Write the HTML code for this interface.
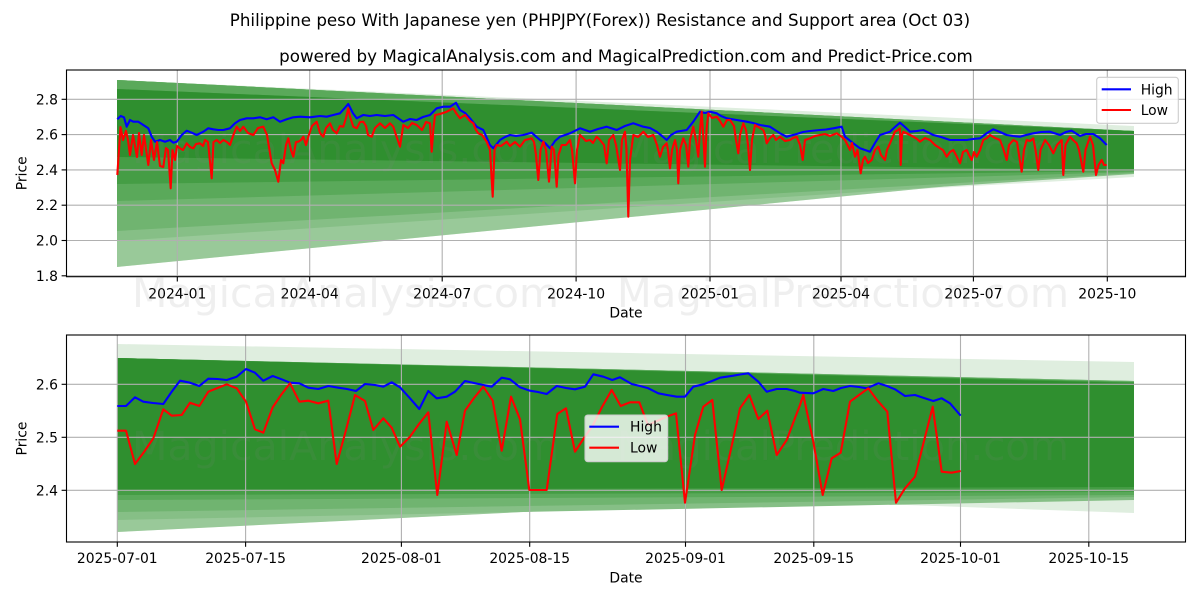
<!DOCTYPE html>
<html>
<head>
<meta charset="utf-8">
<style>
html,body{margin:0;padding:0;background:#fff;}
svg{display:block;font-family:"DejaVu Sans","Liberation Sans",sans-serif;}
.tk{font-size:13.9px;fill:#000;}
.wm{font-size:40.5px;fill:#808080;fill-opacity:0.13;}
</style>
</head>
<body>
<svg width="1200" height="600" viewBox="0 0 1200 600" xmlns="http://www.w3.org/2000/svg">
<rect x="0" y="0" width="1200" height="600" fill="#fff"/>

<!-- Titles -->
<text x="600" y="26" text-anchor="middle" style="font-size:16.7px">Philippine peso With Japanese yen (PHPJPY(Forex)) Resistance and Support area (Oct 03)</text>
<text x="626" y="62" text-anchor="middle" style="font-size:16.7px">powered by MagicalAnalysis.com and MagicalPrediction.com and Predict-Price.com</text>

<!-- ================= TOP CHART ================= -->
<g>
<polygon points="117,80 1134,126 1134,177 919,189 117,267" fill="#dfeedf"/>
<polygon points="117,80 1134,131 1134,168 117,267" fill="#99c999"/>
<polygon points="117,80 1134,131 1134,174 117,241" fill="#86bf86"/>
<polygon points="117,80 1134,131 1134,173 117,231" fill="#70b470"/>
<polygon points="117,80 1134,131 1134,172 117,201" fill="#5aa95a"/>
<polygon points="117,89 1134,131 1134,171 117,184" fill="#459d45"/>
<polygon points="117,89 1134,131 1134,170 117,157" fill="#2f8f2f"/>
</g>
<!-- watermark top center -->
<text class="wm" x="132" y="163" textLength="427" lengthAdjust="spacingAndGlyphs">MagicalAnalysis.com</text>
<text class="wm" x="617" y="163" textLength="452" lengthAdjust="spacingAndGlyphs">MagicalPrediction.com</text>
<!-- grid -->
<g stroke="#b0b0b0" stroke-width="1.1">
<line x1="66.5" y1="99.3" x2="1185.5" y2="99.3"/>
<line x1="66.5" y1="134.6" x2="1185.5" y2="134.6"/>
<line x1="66.5" y1="169.9" x2="1185.5" y2="169.9"/>
<line x1="66.5" y1="205.2" x2="1185.5" y2="205.2"/>
<line x1="66.5" y1="240.5" x2="1185.5" y2="240.5"/>
<line x1="66.5" y1="275.8" x2="1185.5" y2="275.8"/>
<line x1="177.3" y1="70" x2="177.3" y2="276.7"/>
<line x1="309.7" y1="70" x2="309.7" y2="276.7"/>
<line x1="442.2" y1="70" x2="442.2" y2="276.7"/>
<line x1="576.1" y1="70" x2="576.1" y2="276.7"/>
<line x1="710" y1="70" x2="710" y2="276.7"/>
<line x1="841" y1="70" x2="841" y2="276.7"/>
<line x1="973.4" y1="70" x2="973.4" y2="276.7"/>
<line x1="1107.3" y1="70" x2="1107.3" y2="276.7"/>
</g>
<!-- series top -->
<polyline fill="none" stroke="#0000ff" stroke-width="2.1" stroke-linejoin="round" points="117.3,119.3 120.7,116 124,117.3 126.7,126.7 130,120 133.3,121.7 138.3,121.7 143.3,125 148.3,128.3 151.7,136.7 155,141.7 160,140 165,141.7 170,140 173.3,142.7 176.7,141.7 181.7,135 186.7,130.7 191.7,132.7 196.7,135 203.3,131.7 208.3,128.3 213.3,129.3 218.3,130 223.3,130 230,128.3 235,123.3 240,120 246.7,118.3 253.3,118.3 260,117.3 266.7,119.3 273.3,117.3 280,121.7 286.7,119.3 293.3,117.3 300,116.7 310,117.3 320,116 326.7,116.7 333.3,115 340,113.3 348.3,104 353,113.3 356.7,118.3 363.3,115 370,116 376.7,115 385,116 393.3,115 403.3,121.7 410,119 416.7,120 423,117 430,115 436.7,108.3 443.3,106.7 450,106.7 456,102.7 460,110 465,113 470,118.3 476.7,126.7 483.3,130 490,145 493.3,148.3 500,140 505,137 510,135 516,136 523.3,135 531.7,132.7 540,140 545,143 550,148.3 555,141 560,136.7 570,133.3 580,128.3 590,131.7 598,129 606.7,126.7 616.7,130 625,126 633.3,123.3 643.3,126.7 650,128 656.7,131.7 662,136 666.7,140 671,135 676.7,131.7 686.7,130 693.3,121.7 700,111.7 705,113 710,111.7 716.7,113.3 721,116 726.7,118.3 736.7,120 746.7,121.7 753,123 760,125 770,126.7 780,133.3 786.7,136.7 796.7,134 803,132 810,131 820,130 826,129.5 833.3,128.3 841.7,126.7 845,136.7 853.3,143.3 860,148.3 865,150 870,151.7 875,143 880,135 890,131.7 895,127 900,122.7 905,127 910,131.7 917,131 923.3,130 933.3,135 941,137 950,140 958,140 966.7,140 973,139 980,138.3 987,133 993.3,129.3 1000,132 1006.7,135 1013,136 1020,136.7 1026,135 1033.3,133.3 1041,132 1050,131.7 1060,135 1066,132 1071.7,130.7 1080,136 1086,134 1093.3,134 1100,138.3 1106.7,145"/>
<polyline fill="none" stroke="#ff0000" stroke-width="2.1" stroke-linejoin="round" points="117.3,175 119,150 120.5,127 123,140 126,131 128,140 130,155 133,135 137,157 139,133 141.7,155 144,135 148.3,165 151,140 154,160 157,142 160,166 163.3,167 166,148 168,150 170.7,188.3 172.5,150 175,160 177,146 180,148.3 183,150 186.7,143.3 190,147 193.3,148.3 196,144 200,143.3 203,146 205,140 208,142 211.7,178.3 213.5,142 216.7,140 220,143 223.3,140 227,142 230,145 233,136 236.7,126.7 240,131 243.3,126.7 248,133 253.3,135 258,128 263.3,126.7 267,135 271.7,163.3 275,170 278.3,181.7 281,160 283.3,163.3 286,145 288.3,138.3 291,150 293.3,156.7 296,142 298.3,141.7 301,140 303.3,136.7 306,145 308.3,136.7 312,126 316.7,121.7 320,133 323.3,136.7 326,128 330,123.3 333,130 336.7,133.3 340,126 343.3,126.7 346,118 348.3,108.3 350,116.7 353.3,126.7 356.7,128.3 360,122 363.3,121.7 366,126 368,135 371.7,136.7 375,128 380,123.3 385,128 390,123.3 393.3,126.7 396,135 398.3,141.7 400,146.7 403.3,125 408,128 412,123 416.7,125 422,130 426,122 430,123.3 431.7,151.7 433.3,130 435,115 440,114 446.7,111.7 450,110 453.3,108.3 456,113 460,118.3 465,115 470,121 473.3,123.3 476,130 478.3,133.3 482,135 486.7,141.7 490,150 492.7,196.7 494.5,150 496.7,145 501,146 506.7,141.7 510,146 515,142 520,146.7 525,140 531.7,138.3 534,142 536,155 538.3,180 540.5,150 543.3,141.7 546,150 549,181.7 551,155 551.7,146.7 554,150 556.7,186.7 558.5,155 561.7,145 566,145 570,140 572,150 575,183.3 577,150 580,135 583.3,138.3 586,141 590,140 593,143 596.7,136.7 600,140 604,145 606.7,163.3 609,140 613.3,135 616,145 620,170 622,140 625,131.7 626.5,150 628.3,216.7 630,160 633.3,135 638,137 643.3,131.7 648,137 653.3,135 657,145 660,156.7 663,147 666.7,143.3 668,150 670,168.3 672,150 675,140 677,150 678.3,183.3 680,150 683.3,138.3 686,145 688.3,166.7 690,140 693.3,126.7 696,140 698.3,156.7 700,130 701.7,111.7 703.5,140 705,166.7 706.5,130 708.3,113.3 712,118 716.7,116.7 720,121 723.3,126.7 727,120 730,120 734,126 736,140 738.3,153.3 740,135 743.3,123.3 746,130 748,145 750,170 752,140 755,125 760,128 763.3,130 765,135 766.7,143.3 770,138 773.3,135 776,140 780,136.7 785,141 790,140 793,138 796.7,136.7 800,145 802.7,160 805,140 810,138.3 815,136 820,135 825,134 830,136 836.7,133.3 841.7,136.7 845,140 850,150 852,143 855,156.7 857.5,150 860.7,173.3 863,160 865,156.7 868,163 871.7,160 875,150 878.3,146.7 881,155 885,160 887,150 890,143.3 895,131.7 898,130 900,128.3 900.7,165 902,135 903.3,131.7 908,134 913.3,136.7 917,139 920,141.7 925,138 930,140 935,145 940,148.3 943,150 946.7,156.7 950,152 953.3,150 956,155 960,163.3 963,152 966.7,150 969,155 971.7,160 974,152 976.7,156.7 980,150 983.3,140 987,138 990,135 995,138 1000,140 1003,148 1006.7,160 1009,145 1013.3,140 1017,142 1019,155 1021.7,171.7 1024,150 1026.7,140 1030,141 1033.3,138.3 1035.5,150 1038.3,170 1040.5,150 1045,140 1049,145 1053.3,153.3 1057,145 1061.7,140 1063.3,175 1065.5,145 1070,136.7 1073,140 1076.7,143.3 1079,150 1083.3,171.7 1085.5,150 1090,136.7 1093,145 1096,175 1098.5,165 1101.7,160 1104,165 1106.7,165"/>
<!-- axes frame top -->
<rect x="66.5" y="70" width="1119" height="206.7" fill="none" stroke="#000" stroke-width="1.1"/>
<g stroke="#000" stroke-width="1.1">
<line x1="61.6" y1="99.3" x2="66.5" y2="99.3"/>
<line x1="61.6" y1="134.6" x2="66.5" y2="134.6"/>
<line x1="61.6" y1="169.9" x2="66.5" y2="169.9"/>
<line x1="61.6" y1="205.2" x2="66.5" y2="205.2"/>
<line x1="61.6" y1="240.5" x2="66.5" y2="240.5"/>
<line x1="61.6" y1="275.8" x2="66.5" y2="275.8"/>
<line x1="177.3" y1="276.7" x2="177.3" y2="281.5"/>
<line x1="309.7" y1="276.7" x2="309.7" y2="281.5"/>
<line x1="442.2" y1="276.7" x2="442.2" y2="281.5"/>
<line x1="576.1" y1="276.7" x2="576.1" y2="281.5"/>
<line x1="710" y1="276.7" x2="710" y2="281.5"/>
<line x1="841" y1="276.7" x2="841" y2="281.5"/>
<line x1="973.4" y1="276.7" x2="973.4" y2="281.5"/>
<line x1="1107.3" y1="276.7" x2="1107.3" y2="281.5"/>
</g>
<g class="tk" text-anchor="end">
<text x="58" y="104.3">2.8</text>
<text x="58" y="139.6">2.6</text>
<text x="58" y="174.9">2.4</text>
<text x="58" y="210.2">2.2</text>
<text x="58" y="245.5">2.0</text>
<text x="58" y="280.8">1.8</text>
</g>
<g class="tk" text-anchor="middle">
<text x="177.3" y="298.5">2024-01</text>
<text x="309.7" y="298.5">2024-04</text>
<text x="442.2" y="298.5">2024-07</text>
<text x="576.1" y="298.5">2024-10</text>
<text x="710" y="298.5">2025-01</text>
<text x="841" y="298.5">2025-04</text>
<text x="973.4" y="298.5">2025-07</text>
<text x="1107.3" y="298.5">2025-10</text>
<text x="626" y="317.5">Date</text>
</g>
<text class="tk" text-anchor="middle" transform="translate(26.5,173.3) rotate(-90)">Price</text>
<!-- legend top -->
<rect x="1096.7" y="77.3" width="81.6" height="46" rx="2.8" fill="#fff" fill-opacity="0.8" stroke="#cccccc" stroke-width="1.1"/>
<line x1="1101.7" y1="89.3" x2="1131" y2="89.3" stroke="#0000ff" stroke-width="2.1"/>
<line x1="1101.7" y1="110" x2="1131" y2="110" stroke="#ff0000" stroke-width="2.1"/>
<text class="tk" x="1140.7" y="94.3">High</text>
<text class="tk" x="1140.7" y="115">Low</text>
<!-- watermark below top axes -->
<text class="wm" x="132" y="307" textLength="427" lengthAdjust="spacingAndGlyphs">MagicalAnalysis.com</text>
<text class="wm" x="617" y="307" textLength="452" lengthAdjust="spacingAndGlyphs">MagicalPrediction.com</text>

<!-- ================= BOTTOM CHART ================= -->
<g>
<polygon points="117,344 1134,362 1134,513 764,500 117,532" fill="#dfeedf"/>
<polygon points="117,358 1134,381 1134,482 117,532" fill="#99c999"/>
<polygon points="117,358 1134,381 1134,500 117,520" fill="#86bf86"/>
<polygon points="117,358 1134,381 1134,497 117,512" fill="#70b470"/>
<polygon points="117,358 1134,382 1134,495 117,500" fill="#5aa95a"/>
<polygon points="117,358 1134,382 1134,492 117,495" fill="#459d45"/>
<polygon points="117,358 1134,383 1134,487 117,490" fill="#2f8f2f"/>
</g>
<text class="wm" x="132" y="460" textLength="427" lengthAdjust="spacingAndGlyphs">MagicalAnalysis.com</text>
<text class="wm" x="617" y="460" textLength="452" lengthAdjust="spacingAndGlyphs">MagicalPrediction.com</text>
<g stroke="#b0b0b0" stroke-width="1.1">
<line x1="66.5" y1="384.3" x2="1185.5" y2="384.3"/>
<line x1="66.5" y1="437.3" x2="1185.5" y2="437.3"/>
<line x1="66.5" y1="490.3" x2="1185.5" y2="490.3"/>
<line x1="117.3" y1="335" x2="117.3" y2="542"/>
<line x1="245.6" y1="335" x2="245.6" y2="542"/>
<line x1="401.4" y1="335" x2="401.4" y2="542"/>
<line x1="529.7" y1="335" x2="529.7" y2="542"/>
<line x1="685.5" y1="335" x2="685.5" y2="542"/>
<line x1="813.8" y1="335" x2="813.8" y2="542"/>
<line x1="960.5" y1="335" x2="960.5" y2="542"/>
<line x1="1088.8" y1="335" x2="1088.8" y2="542"/>
</g>
<polyline fill="none" stroke="#0000ff" stroke-width="2.1" stroke-linejoin="round" points="117.3,406 126,406 135,397.3 143.3,401.7 153,403 163.3,404 171.5,392 180,380.7 190,382.7 199.3,386 208.3,378.7 217.5,379 226.7,380 236.7,376.7 246,369 255,372.7 263.3,380.7 272.7,376 281.7,379.3 290,382.7 299.3,383.3 308.3,387.7 318.3,389 328.3,386 338.3,387.7 347,389 356,391 365,384 375,385 383.3,386.7 391.7,382.3 400,387.3 410,398.3 419.3,409 428.3,391 436.7,398.3 446.7,396.7 455,391.7 465,381 474,383 483.3,385 491.7,386.7 501.7,377.7 510,379.3 520,387.3 530,390.7 538,392 546.7,394 556.7,386 566,388 575,389.3 585,386.7 593.3,374.3 603.3,376.7 612.3,380 620,377.3 631.7,384 640,386 648.3,388.3 658.3,393.3 667,395 676.7,396.7 685,396.7 693.3,386.7 703.3,384.3 712,381 720,377.7 733.3,375.7 740,374.5 748.3,373.3 758.3,381.7 766.7,391.7 776.7,389 786.7,389 795,391 800,392.7 813.3,393.3 823.3,389 833.3,391 841,388 850,386 859,387 866.7,388.3 878.3,383.3 887,386 895,389.3 905,396 915,395 924,398 933.3,401 941.7,398.3 950,403.3 960.7,415.7"/>
<polyline fill="none" stroke="#ff0000" stroke-width="2.1" stroke-linejoin="round" points="117.3,430.7 126,430.7 135,464 144,452 153.3,438.3 163.3,409.3 171.7,415.7 181.7,415 190,402.7 199.3,406 208.3,391.7 217.5,388 226.7,384.3 236.7,388.3 246,401.7 255,429.3 263.3,432.7 272.7,407.3 281,395 290,383.3 299.3,401.7 308.3,400.7 318.3,403.3 328.3,400.7 336.7,464 346,430 355,395 365,401 373.3,430 383.3,418.3 391.7,427.7 400,446.7 410,436.7 419,424 428.3,412.3 437.3,495 446.7,421.7 456.7,455 465,410.7 474,398 483.3,386.7 492.7,400.7 501.7,450.7 511,396.7 520,419.3 529.3,490 538,490 546.7,490 557.3,414 566,408.3 575,451.7 584,438 593,425 602,407 611.7,390 620.7,406 630,402.3 639.3,402.3 648,425 657,421 666.7,416.7 676,413.3 685,502.7 695,435 703.3,406.7 712.3,400 721.7,490 731,449 740,408.3 749.3,395 758.3,419 767.3,410.7 776.7,455 786.7,440 795,418 800,405 803.3,395 813.3,441.7 822.7,495 831.7,458.3 840.7,452.7 850,401.7 859,395 868.3,388.3 877,400 887.3,411.7 896,502.7 905,488.3 915,476.7 924,441 932.7,406.7 941.7,471.7 951.7,472.7 960.7,471"/>
<rect x="66.5" y="335" width="1119" height="207" fill="none" stroke="#000" stroke-width="1.1"/>
<g stroke="#000" stroke-width="1.1">
<line x1="61.6" y1="384.3" x2="66.5" y2="384.3"/>
<line x1="61.6" y1="437.3" x2="66.5" y2="437.3"/>
<line x1="61.6" y1="490.3" x2="66.5" y2="490.3"/>
<line x1="117.3" y1="542" x2="117.3" y2="546.8"/>
<line x1="245.6" y1="542" x2="245.6" y2="546.8"/>
<line x1="401.4" y1="542" x2="401.4" y2="546.8"/>
<line x1="529.7" y1="542" x2="529.7" y2="546.8"/>
<line x1="685.5" y1="542" x2="685.5" y2="546.8"/>
<line x1="813.8" y1="542" x2="813.8" y2="546.8"/>
<line x1="960.5" y1="542" x2="960.5" y2="546.8"/>
<line x1="1088.8" y1="542" x2="1088.8" y2="546.8"/>
</g>
<g class="tk" text-anchor="end">
<text x="58" y="389.3">2.6</text>
<text x="58" y="442.3">2.5</text>
<text x="58" y="495.3">2.4</text>
</g>
<g class="tk" text-anchor="middle">
<text x="117.3" y="563">2025-07-01</text>
<text x="245.6" y="563">2025-07-15</text>
<text x="401.4" y="563">2025-08-01</text>
<text x="529.7" y="563">2025-08-15</text>
<text x="685.5" y="563">2025-09-01</text>
<text x="813.8" y="563">2025-09-15</text>
<text x="960.5" y="563">2025-10-01</text>
<text x="1088.8" y="563">2025-10-15</text>
<text x="626" y="582.5">Date</text>
</g>
<text class="tk" text-anchor="middle" transform="translate(26.5,438.5) rotate(-90)">Price</text>
<!-- legend bottom -->
<rect x="585" y="415" width="82.7" height="46.7" rx="2.8" fill="#fff" fill-opacity="0.8" stroke="#cccccc" stroke-width="1.1"/>
<line x1="589.3" y1="426.7" x2="619" y2="426.7" stroke="#0000ff" stroke-width="2.1"/>
<line x1="589.3" y1="447.7" x2="619" y2="447.7" stroke="#ff0000" stroke-width="2.1"/>
<text class="tk" x="630" y="431.7">High</text>
<text class="tk" x="630" y="452.7">Low</text>
</svg>
</body>
</html>
